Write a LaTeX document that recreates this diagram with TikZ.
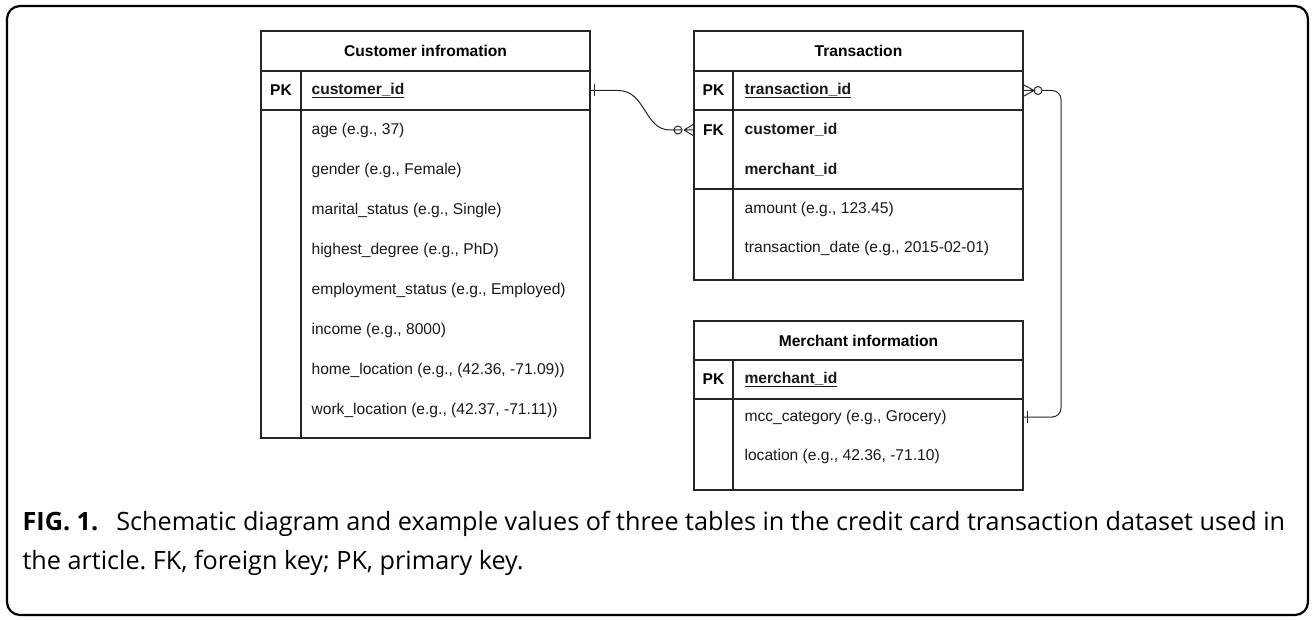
\documentclass[tikz,border=0pt]{standalone}
\usepackage{fontspec}
\setmainfont{Liberation Sans}
\newfontfamily\capfont{Open Sans}
\usetikzlibrary{positioning}
\frenchspacing

\tikzset{
  band/.style={draw, anchor=north west, inner sep=0pt, outer sep=0pt,
    minimum width=329pt, minimum height=#1, font=\fontsize{15.6}{18}\selectfont\bfseries},
  fld/.style={anchor=west, inner sep=0pt, text=black!90, font=\fontsize{15.6}{18}\selectfont},
  keytxt/.style={inner sep=0pt, font=\fontsize{15.6}{18}\selectfont\bfseries},
  rel/.style={line width=1pt, draw=black!85},
}

\begin{document}
\begin{tikzpicture}[x=1pt, y=-1pt, line width=1.2pt, draw=black!85]
  \useasboundingbox (0,0) rectangle (1314,620);
  \draw[line width=2.2pt, draw=black, rounded corners=13pt] (7,6) rectangle (1308,615);

  % customer table
  \node[band=40] (custhead) at (261,31) {Customer infromation};
  \node[band=39] (custkeys) at (custhead.south west) {};
  \node[band=328] (custattr) at (custkeys.south west) {};
  \draw ([xshift=40pt]custkeys.north west) -- ([xshift=40pt]custattr.south west);
  \node[keytxt] at ([xshift=20pt]custkeys.west) {PK};
  \node[fld, font=\fontsize{15.6}{18}\selectfont\bfseries] (custid) at ([xshift=50pt]custkeys.west) {\underline{customer\_id}};
  \foreach \t [count=\i] in {{age (e.g., 37)}, {gender (e.g., Female)},
      {marital\_status (e.g., Single)}, {highest\_degree (e.g., PhD)},
      {employment\_status (e.g., Employed)}, {income (e.g., 8000)},
      {home\_location (e.g., (42.36, -71.09))}, {work\_location (e.g., (42.37, -71.11))}}
    \node[fld] (cust\i) at (311, 90+40*\i) {\t};

  % transaction table
  \node[band=40] (trhead) at (694,31) {Transaction};
  \node[band=39] (trpk) at (trhead.south west) {};
  \node[band=79] (trfk) at (trpk.south west) {};
  \node[band=91] (trattr) at (trfk.south west) {};
  \draw ([xshift=39pt]trpk.north west) -- ([xshift=39pt]trattr.south west);
  \node[keytxt] at ([xshift=19.5pt]trpk.west) {PK};
  \node[fld, font=\fontsize{15.6}{18}\selectfont\bfseries] (trid) at ([xshift=50pt]trpk.west) {\underline{transaction\_id}};
  \node[keytxt] at (713.5,130) {FK};
  \node[fld, font=\fontsize{15.6}{18}\selectfont\bfseries] (trcust) at (744,130) {customer\_id};
  \node[fld, font=\fontsize{15.6}{18}\selectfont\bfseries] (trmerch) at (744,170) {merchant\_id};
  \node[fld] (tramount) at (744,209) {amount (e.g., 123.45)};
  \node[fld] (trdate) at (744,248) {transaction\_date (e.g., 2015-02-01)};

  % merchant table
  \node[band=39] (merhead) at (694,321) {Merchant information};
  \node[band=39] (merkeys) at (merhead.south west) {};
  \node[band=91] (merattr) at (merkeys.south west) {};
  \draw ([xshift=39pt]merkeys.north west) -- ([xshift=39pt]merattr.south west);
  \node[keytxt] at ([xshift=19.5pt]merkeys.west) {PK};
  \node[fld, font=\fontsize{15.6}{18}\selectfont\bfseries] (merid) at ([xshift=50pt]merkeys.west) {\underline{merchant\_id}};
  \node[fld] (mercat) at (744,417) {mcc\_category (e.g., Grocery)};
  \node[fld] (merloc) at (744,456) {location (e.g., 42.36, -71.10)};

  % relations
  \coordinate (c1) at (custkeys.east);
  \coordinate (c2) at (trfk.west |- trcust.west);
  \coordinate (t1) at (trpk.east);
  \coordinate (m1) at (merattr.east |- mercat.west);
  \draw[rel] (c1) -- ++(28,0) .. controls ++(28,0) and ++(-26,0) .. ([xshift=-24pt]c2) -- ([xshift=-12pt]c2);
  \draw[rel] ([xshift=4pt,yshift=6pt]c1) -- ([xshift=4pt,yshift=-6pt]c1);
  \draw[rel] ([xshift=-16pt]c2) circle (4pt);
  \draw[rel] ([xshift=-10pt]c2) -- ([yshift=6pt]c2) ([xshift=-10pt]c2) -- (c2) ([xshift=-10pt]c2) -- ([yshift=-6pt]c2);
  \draw[rel] (t1) -- ([xshift=11pt]t1) -- ([yshift=6pt]t1) ([xshift=11pt]t1) -- ([yshift=-6pt]t1);
  \draw[rel] ([xshift=15pt]t1) circle (4pt);
  \draw[rel, rounded corners=9pt] ([xshift=19pt]t1) -- ([xshift=38pt]t1) -- ([xshift=38pt]t1 |- m1) -- (m1);
  \draw[rel] ([xshift=4pt,yshift=6pt]m1) -- ([xshift=4pt,yshift=-6pt]m1);

  % caption
  \node[anchor=base west, inner sep=0pt, font=\capfont\fontsize{25.2}{28}\selectfont] (cap1) at (22,530)
    {\textbf{FIG. 1.}\hspace{18pt}Schematic diagram and example values of three tables in the credit card transaction dataset used in};
  \node[anchor=base west, inner sep=0pt, font=\capfont\fontsize{25.2}{28}\selectfont] (cap2) at (22,569)
    {the article. FK, foreign key; PK, primary key.};
\end{tikzpicture}
\end{document}
